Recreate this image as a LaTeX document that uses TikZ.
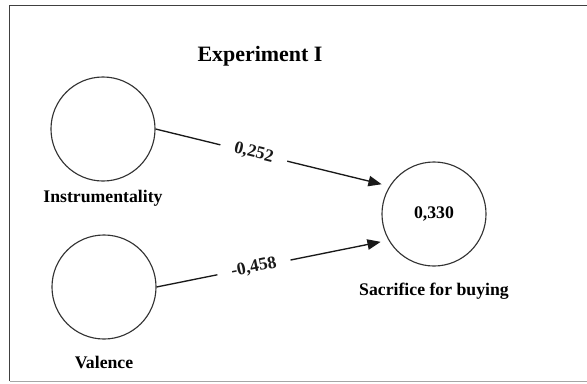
\documentclass[tikz,border=0pt]{standalone}
\usepackage{fontspec}
\setmainfont{Liberation Serif}
\usetikzlibrary{positioning, arrows.meta}

\begin{document}
\begin{tikzpicture}[
  x=0.025cm, y=-0.025cm,
  >={Triangle[length=3.3mm, width=2.6mm]},
  every node/.style={font=\bfseries\fontsize{12.6}{15}\selectfont},
  latent/.style = {circle, draw=black!80, line width=0.8pt, minimum size=2.6cm, inner sep=0pt},
  lbl/.style    = {inner sep=0pt},
  coef/.style   = {fill=white, inner xsep=0.36cm, inner ysep=1pt, sloped},
  path/.style   = {->, line width=0.95pt, black!90, shorten >=0.2cm},
]
  \useasboundingbox (0,0) rectangle (587,383);
  % frame
  \draw[black!75, line width=1.4pt] (9.5,381) -- (9.5,5.5) -- (587,5.5);
  \draw[black!35, line width=0.8pt] (9.5,381.5) -- (587,381.5);

  \node[font=\bfseries\fontsize{15.6}{18}\selectfont, anchor=base] (title) at (260,61) {Experiment I};

  \node[latent] (ins) at (103,129) {};
  \node[latent] (val) at (104,287) {};
  \node[latent] (sac) at (434,214) {0,330};

  \node[lbl, below=0.2cm of ins]  (insl) {Instrumentality};
  \node[lbl, below=0.4cm of val]  (vall) {Valence};
  \node[lbl, below=0.4cm of sac]  (sacl) {Sacrifice for buying};

  \draw[path] (ins.east) -- (sac.148) node[coef, pos=0.42] {0,252};
  \draw[path] (val.east) -- (sac.210) node[coef, pos=0.42] {-0,458};
\end{tikzpicture}
\end{document}
